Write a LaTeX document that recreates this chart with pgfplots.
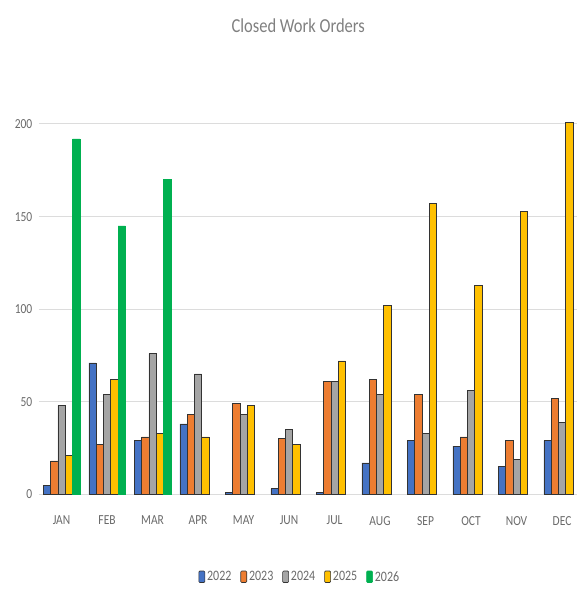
\documentclass[border=0pt]{standalone}
\usepackage{fontspec}
\setmainfont{Carlito}
\usepackage{pgfplots}
\pgfplotsset{compat=1.18}
\usepackage{graphicx}

\definecolor{c22}{HTML}{4472C4}
\definecolor{c23}{HTML}{ED7D31}
\definecolor{c24}{HTML}{A5A5A5}
\definecolor{c25}{HTML}{FFC000}
\definecolor{c26}{HTML}{00B050}
\definecolor{txt}{HTML}{6A6A6A}
\definecolor{gridc}{HTML}{DCDCDC}

\newcommand{\vs}[1]{\scalebox{1}[1.2]{#1}}

\begin{document}
\begin{tikzpicture}
\path[use as bounding box] (0pt,0pt) rectangle (577pt,595pt);
\begin{axis}[
    at={(38.8pt,100.7pt)}, anchor=south west,
    x=45.5pt, y=1.8515pt,
    xmin=-0.5, xmax=11.33,
    ymin=0, ymax=205,
    ybar=0pt, bar width=7.3pt,
    axis line style={draw=none},
    tick style={draw=none},
    ymajorgrids, grid style={gridc, line width=1pt},
    ytick={0,50,100,150,200},
    yticklabels={\vs{0},\vs{50},\vs{100},\vs{150},\vs{200}},
    yticklabel style={font=\fontsize{11.5}{12}\selectfont, text=txt, xshift=-3pt},
    xtick={0,...,11},
    xticklabels={\vs{JAN},\vs{FEB},\vs{MAR},\vs{APR},\vs{MAY},\vs{JUN},\vs{JUL},\vs{AUG},\vs{SEP},\vs{OCT},\vs{NOV},\vs{DEC}},
    xticklabel style={font=\fontsize{11.5}{12}\selectfont, text=txt, yshift=-14pt},
    clip=false,
    title={\vs{Closed Work Orders}},
    title style={at={(0.482,1.218)}, anchor=center, font=\fontsize{16.5}{18}\selectfont, text=txt!85},
    legend style={at={(0.485,-0.218)}, anchor=center, draw=none, fill=none,
        font=\fontsize{12}{13}\selectfont, text=txt,
        /tikz/every even column/.append style={column sep=7pt}},
    legend columns=-1,
    legend image code/.code={\draw[#1, rounded corners=1pt] (0pt,-5.5pt) rectangle (6pt,6pt);},
]
\addplot[fill=c22, draw=black!80, line width=0.6pt] coordinates
  {(0,5) (1,71) (2,29) (3,38) (4,1) (5,3) (6,1) (7,17) (8,29) (9,26) (10,15) (11,29)};
\addplot[fill=c23, draw=black!80, line width=0.6pt] coordinates
  {(0,18) (1,27) (2,31) (3,43) (4,49) (5,30) (6,61) (7,62) (8,54) (9,31) (10,29) (11,52)};
\addplot[fill=c24, draw=black!80, line width=0.6pt] coordinates
  {(0,48) (1,54) (2,76) (3,65) (4,43) (5,35) (6,61) (7,54) (8,33) (9,56) (10,19) (11,39)};
\addplot[fill=c25, draw=black!80, line width=0.6pt] coordinates
  {(0,21) (1,62) (2,33) (3,31) (4,48) (5,27) (6,72) (7,102) (8,157) (9,113) (10,153) (11,201)};
\addplot[fill=c26, draw=c26, line width=0.6pt] coordinates
  {(0,192) (1,145) (2,170)};
\legend{\vs{2022},\vs{2023},\vs{2024},\vs{2025},\vs{2026}}
\end{axis}
\end{tikzpicture}
\end{document}
